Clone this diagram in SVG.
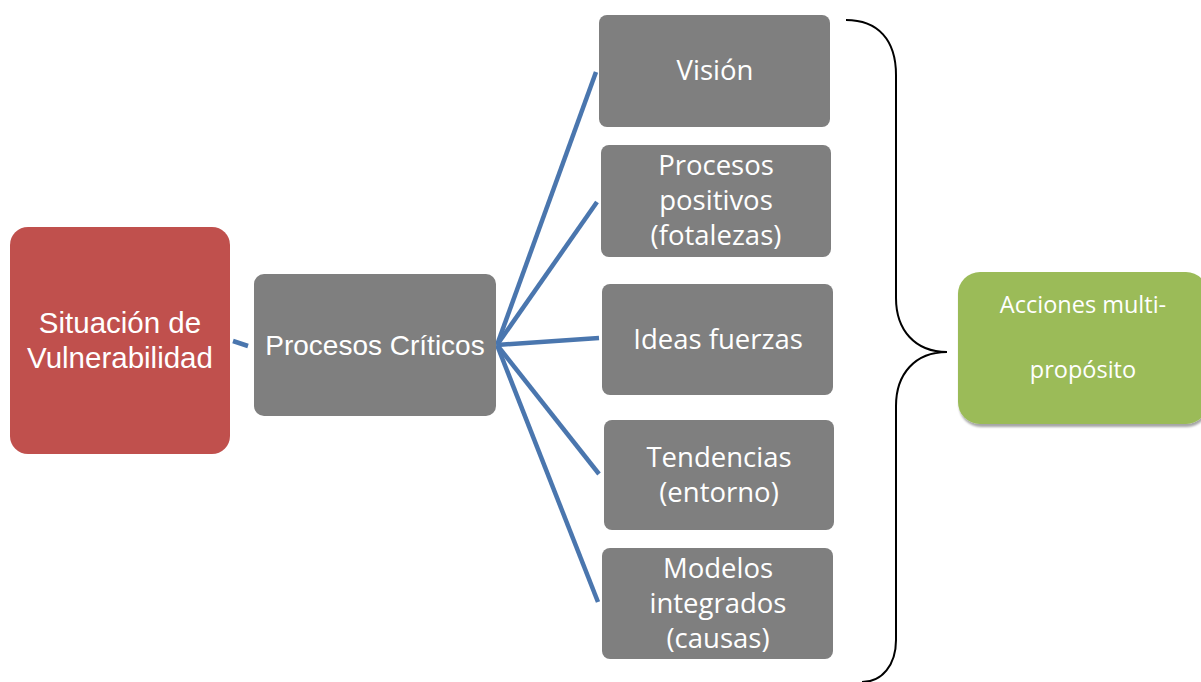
<svg xmlns="http://www.w3.org/2000/svg" width="1201" height="682" viewBox="0 0 1201 682">
<defs>
<style>
.gray{fill:#7f7f7f;}
.t{fill:#ffffff;font-family:"Open Sans","DejaVu Sans",sans-serif;font-size:27.5px;text-anchor:middle;}
.tl{fill:#ffffff;font-family:"Liberation Sans",Arial,sans-serif;font-size:28px;text-anchor:middle;}
.tg{fill:#ffffff;font-family:"Open Sans","DejaVu Sans",sans-serif;font-size:23.5px;text-anchor:middle;}
.conn{stroke:#4a76ae;stroke-width:4.5;fill:none;stroke-linecap:butt;}
</style>
<filter id="sh" x="-10%" y="-10%" width="130%" height="130%">
<feGaussianBlur in="SourceAlpha" stdDeviation="1.2"/>
<feOffset dx="1" dy="3" result="b"/>
<feFlood flood-color="#000" flood-opacity="0.35"/>
<feComposite in2="b" operator="in"/>
<feMerge><feMergeNode/><feMergeNode in="SourceGraphic"/></feMerge>
</filter>
</defs>
<rect width="1201" height="682" fill="#ffffff"/>
<g id="connectors">
<line class="conn" x1="233" y1="341" x2="248" y2="346"/>
<line class="conn" x1="497" y1="345" x2="596" y2="72"/>
<line class="conn" x1="497" y1="345" x2="597" y2="202"/>
<line class="conn" x1="497" y1="345" x2="599" y2="338"/>
<line class="conn" x1="497" y1="345" x2="599" y2="474"/>
<line class="conn" x1="497" y1="345" x2="598" y2="602"/>
<path d="M846,20 C878,20 896,40 896,75 L896,298 C896,330 915,352 947,352 C915,352 896,374 896,406 L896,640 C896,665 882,682 862,682" fill="none" stroke="#000" stroke-width="2"/>
</g>
<g id="node-situacion">
<rect x="10" y="227" width="220" height="227" rx="18" fill="#c0504d"/>
<text class="tl" x="120" y="333" style="font-size:29.5px">Situación de</text>
<text class="tl" x="120" y="368" style="font-size:29.5px">Vulnerabilidad</text>
</g>
<g id="node-procesos-criticos">
<rect class="gray" x="254" y="274" width="242" height="142" rx="10"/>
<text class="tl" x="375" y="355">Procesos Críticos</text>
</g>
<g id="node-vision">
<rect class="gray" x="599" y="15" width="231" height="112" rx="8"/>
<text class="t" x="715" y="80">Visión</text>
</g>
<g id="node-procesos-positivos">
<rect class="gray" x="601" y="145" width="230" height="112" rx="8"/>
<text class="t" x="716" y="175">Procesos</text>
<text class="t" x="716" y="210">positivos</text>
<text class="t" x="716" y="245">(fotalezas)</text>
</g>
<g id="node-ideas">
<rect class="gray" x="602" y="284" width="231" height="111" rx="8"/>
<text class="t" x="718" y="349">Ideas fuerzas</text>
</g>
<g id="node-tendencias">
<rect class="gray" x="604" y="420" width="230" height="110" rx="8"/>
<text class="t" x="719" y="467">Tendencias</text>
<text class="t" x="719" y="502">(entorno)</text>
</g>
<g id="node-modelos">
<rect class="gray" x="602" y="548" width="231" height="111" rx="8"/>
<text class="t" x="718" y="578">Modelos</text>
<text class="t" x="718" y="613">integrados</text>
<text class="t" x="718" y="648">(causas)</text>
</g>
<g id="node-acciones">
<rect x="958" y="272" width="250" height="152" rx="22" fill="#9bbb59" filter="url(#sh)"/>
<text class="tg" x="1083" y="313">Acciones multi-</text>
<text class="tg" x="1083" y="378">propósito</text>
</g>
</svg>
